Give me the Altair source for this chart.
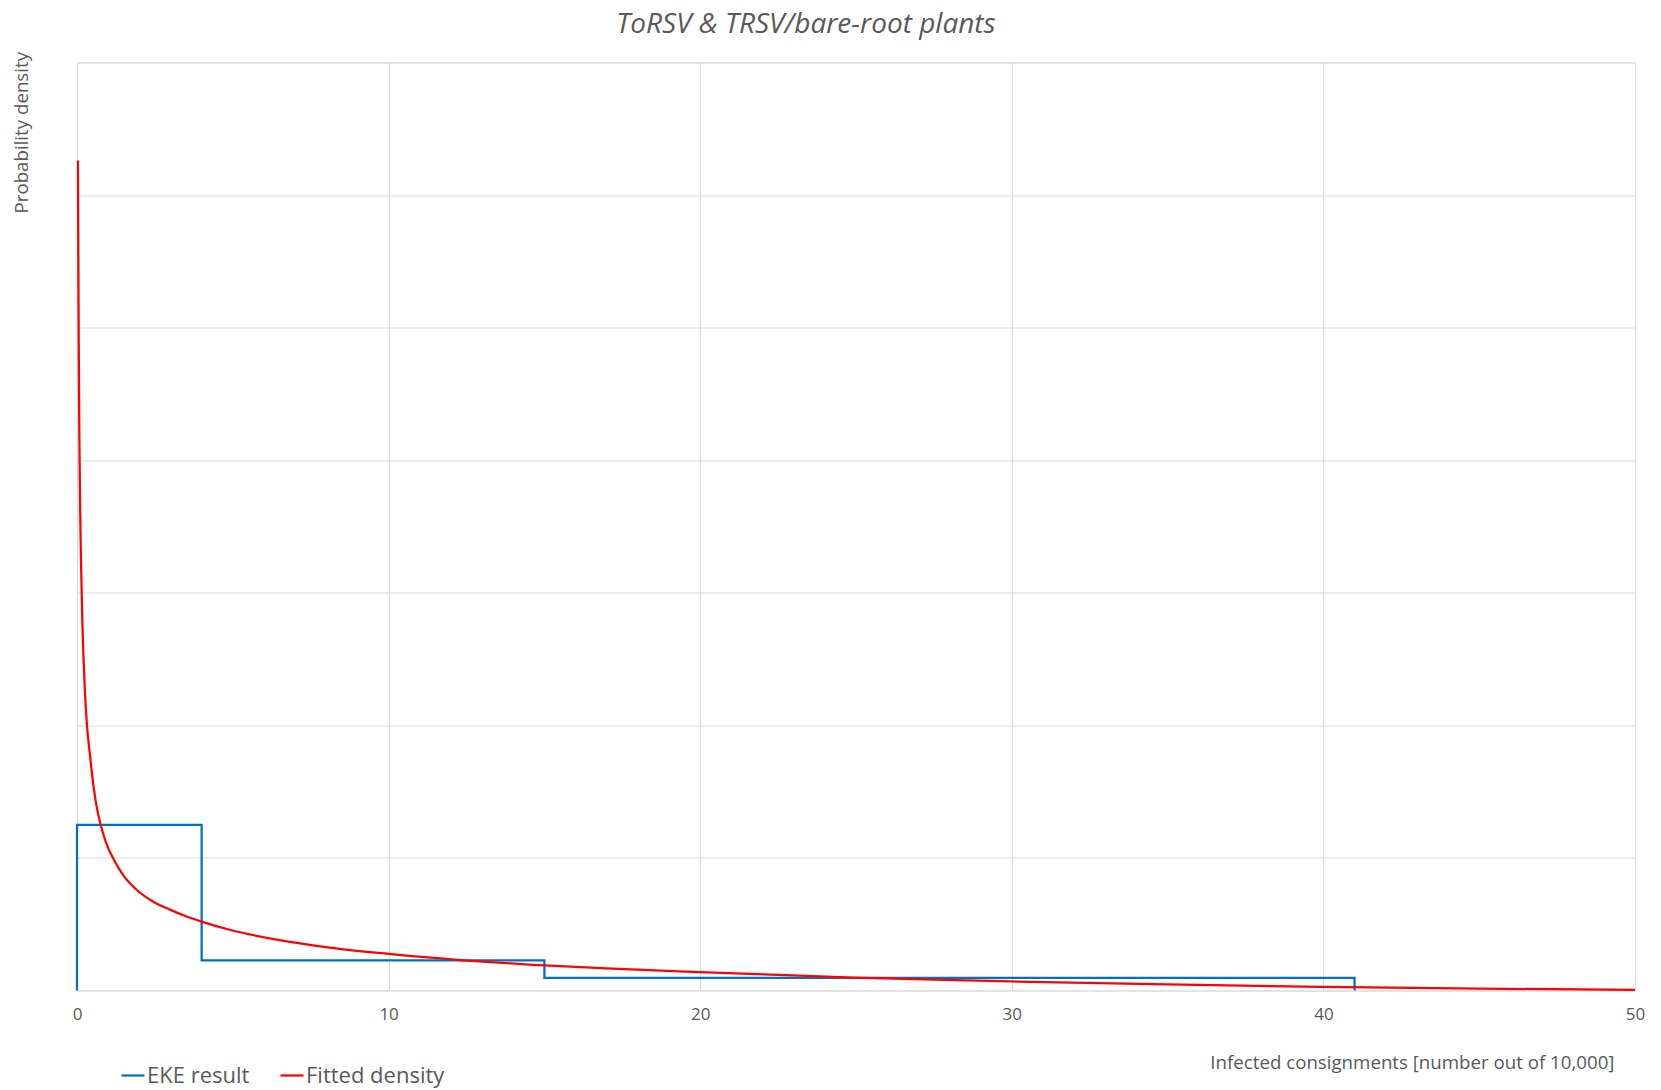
import altair as alt
import pandas as pd

# EKE result (step histogram)
eke_x = [0, 0, 4, 4, 15, 15, 41, 41]
eke_y = [0, 0.125, 0.125, 0.0228, 0.0228, 0.0096, 0.0096, 0]

# Fitted density
fit_x = [0.03, 0.04, 0.055, 0.075, 0.1, 0.13, 0.17, 0.25, 0.32, 0.41, 0.51, 0.62,
         0.76, 0.94, 1.16, 1.48, 1.91, 2.45, 2.98, 3.52, 4.0, 4.9, 6.5, 8.1, 10,
         12.4, 14.5, 17, 20, 22.5, 24.9, 27.5, 30, 35, 40, 45, 50]
fit_y = [0.626, 0.57, 0.49, 0.42, 0.365, 0.322, 0.28, 0.228, 0.2, 0.179, 0.158, 0.14,
         0.125, 0.111, 0.0997, 0.087, 0.076, 0.067, 0.061, 0.0558, 0.052, 0.0458,
         0.038, 0.0324, 0.0276, 0.0228, 0.0196, 0.0166, 0.0138, 0.0117, 0.0098,
         0.0082, 0.0068, 0.0046, 0.0027, 0.0014, 0.0005]

series_names = ["EKE result", "Fitted density"]
series_colors = ["#0070C0", "#FF0000"]
x_ticks = [0, 10, 20, 30, 40, 50]
y_grid = [0, 0.1, 0.2, 0.3, 0.4, 0.5, 0.6, 0.7]

eke_df = pd.DataFrame({"x": eke_x, "y": eke_y, "order": list(range(len(eke_x))),
                       "series": series_names[0]})
fit_df = pd.DataFrame({"x": fit_x, "y": fit_y, "order": list(range(len(fit_x))),
                       "series": series_names[1]})

FONT = "Open Sans"
GRAY = "#595959"

color = alt.Color(
    "series:N",
    scale=alt.Scale(domain=series_names, range=series_colors),
    legend=alt.Legend(
        title=None,
        orient="none",
        direction="horizontal",
        legendX=43,
        legendY=1000,
        symbolType="stroke",
        symbolSize=529,
        symbolStrokeWidth=2.25,
        labelFont=FONT,
        labelFontSize=22,
        labelColor=GRAY,
        labelOffset=1,
        columnPadding=26,
    ),
)

x_enc = alt.X(
    "x:Q",
    scale=alt.Scale(domain=[0, 50], nice=False),
    axis=alt.Axis(
        values=x_ticks,
        title="Infected consignments [number out of 10,000]",
        titleFont=FONT,
        titleFontSize=18.7,
        titleFontWeight="normal",
        titleColor=GRAY,
        titleX=1537,
        titleY=72,
        titleAlign="right",
        titleBaseline="middle",
        labelFont=FONT,
        labelFontSize=17,
        labelColor=GRAY,
        labelBaseline="middle",
        labelPadding=24,
        labelFlush=False,
        ticks=False,
        domain=False,
        gridColor="#d9d9d9",
        gridWidth=1,
    ),
)

y_enc = alt.Y(
    "y:Q",
    scale=alt.Scale(domain=[0, 0.7], nice=False),
    axis=alt.Axis(
        values=y_grid,
        labels=False,
        ticks=False,
        domain=False,
        title="Probability density",
        titleFont=FONT,
        titleFontSize=18.7,
        titleFontWeight="normal",
        titleColor=GRAY,
        titleAngle=270,
        titleX=-56,
        titleY=-11,
        titleAlign="right",
        titleBaseline="middle",
        gridColor="#d9d9d9",
        gridWidth=1,
    ),
)

eke = alt.Chart(eke_df).mark_line(strokeWidth=2.25).encode(
    x=x_enc, y=y_enc, color=color, order="order:Q"
)
fit = alt.Chart(fit_df).mark_line(strokeWidth=2.25, interpolate="monotone").encode(
    x=x_enc, y=y_enc, color=color, order="order:Q"
)

chart = (
    alt.layer(eke, fit)
    .properties(
        width=1558,
        height=928,
        padding={"left": 69, "top": 54.5, "right": 14, "bottom": 100},
        autosize=alt.AutoSizeParams(type="none"),
        title=alt.TitleParams(
            "ToRSV & TRSV/bare-root plants",
            font=FONT,
            fontSize=28,
            fontStyle="italic",
            fontWeight="normal",
            color=GRAY,
            anchor="middle",
            dx=-50,
            offset=13,
        ),
    )
    .configure_view(stroke=None)
    .configure(background="white")
)

chart.save("out.html", embed_options={"renderer": "svg", "actions": False})
